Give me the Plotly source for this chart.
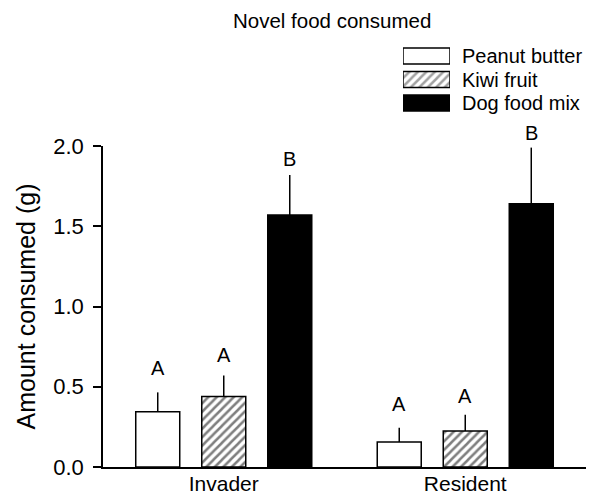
import plotly.graph_objects as go

groups = ["Invader", "Resident"]
series = ["Peanut butter", "Kiwi fruit", "Dog food mix"]
means = {
    "Peanut butter": [0.345, 0.155],
    "Kiwi fruit": [0.44, 0.225],
    "Dog food mix": [1.57, 1.64],
}
errors = {
    "Peanut butter": [0.12, 0.09],
    "Kiwi fruit": [0.13, 0.10],
    "Dog food mix": [0.25, 0.35],
}
letters = {
    "Peanut butter": ["A", "A"],
    "Kiwi fruit": ["A", "A"],
    "Dog food mix": ["B", "B"],
}
letter_y = {
    "Peanut butter": [0.57, 0.34],
    "Kiwi fruit": [0.65, 0.39],
    "Dog food mix": [1.87, 2.03],
}
y_ticks = [0.0, 0.5, 1.0, 1.5, 2.0]
y_range = [0, 2]

FONT = "Liberation Sans, Arial, sans-serif"
fill = {"Peanut butter": "white", "Kiwi fruit": "white", "Dog food mix": "black"}
pat = {"Peanut butter": "", "Kiwi fruit": "/", "Dog food mix": ""}

# page body has an 8px margin; figure covers the rest of the window
OFF = 8
WIN_W, WIN_H = 595, 496
W, H = WIN_W - OFF, WIN_H - OFF

# layout positions in window pixels
ax_left, ax_right, ax_top, ax_bottom = 103, 586, 146, 467
top_px = 30  # top of the overall plotting block

L = ax_left - OFF
R = W - (ax_right - OFF)
T = top_px - OFF
B = H - (ax_bottom - OFF)
plot_h = H - T - B
plot_w = W - L - R


def py(px):  # window pixel y -> paper fraction
    return (ax_bottom - px) / plot_h


def px_x(px):  # window pixel x -> paper fraction
    return (px - ax_left) / plot_w


main_dom_top = py(ax_top)

bargap = 0.18
bargroupgap = 1 / 3
slot = (1 - bargap) / len(series)

PATTERN = dict(fgcolor="black", bgcolor="white", size=6, solidity=0.42)

fig = go.Figure()
for s in series:
    fig.add_trace(go.Bar(
        x=groups, y=means[s], name=s, showlegend=False,
        marker=dict(color=fill[s], line=dict(color="black", width=1.5),
                    pattern=dict(shape=pat[s], **PATTERN)),
        error_y=dict(type="data", symmetric=False, array=errors[s],
                     arrayminus=[0] * len(groups), width=0, thickness=1.5,
                     color="black"),
        xaxis="x", yaxis="y",
    ))

# significance letters (paper y so they are not hidden above the axis range)
for i, s in enumerate(series):
    for j, g in enumerate(groups):
        yp = (letter_y[s][j] - y_range[0]) / (y_range[1] - y_range[0]) * main_dom_top
        fig.add_annotation(x=j + (i - 1) * slot, y=yp, xref="x", yref="paper",
                           text=letters[s][j], showarrow=False, yanchor="bottom",
                           yshift=-5,
                           font=dict(family=FONT, size=20, color="black"))

# legend drawn as a small bar panel
leg_top_px, leg_bot_px = 44.25, 114.75
leg_left_px, leg_right_px = 403, 450
fig.add_trace(go.Bar(
    y=series, x=[1] * len(series), base=0, orientation="h", width=0.68,
    showlegend=False, hoverinfo="skip",
    marker=dict(color=[fill[s] for s in series], line=dict(color="black", width=1.5),
                pattern=dict(shape=[pat[s] for s in series], **PATTERN)),
    xaxis="x2", yaxis="y2",
))

fig.update_layout(
    width=W, height=H,
    margin=dict(l=L, r=R, t=T, b=B, autoexpand=False),
    paper_bgcolor="white", plot_bgcolor="white",
    barmode="group", bargap=bargap, bargroupgap=bargroupgap,
    font=dict(family=FONT, color="black"),
    xaxis=dict(domain=[0, 1], showline=True, linecolor="black", linewidth=1.5,
               ticks="", showgrid=False, zeroline=False, automargin=False,
               ticklabelstandoff=-3,
               tickfont=dict(family=FONT, size=21, color="black"),
               range=[-0.5, 1.5], anchor="y"),
    yaxis=dict(domain=[0, main_dom_top], range=y_range, showline=True, linecolor="black",
               linewidth=1.5, ticks="outside", ticklen=8, tickwidth=1.5,
               tickcolor="black", tickvals=y_ticks,
               ticktext=[f"{v:.1f}" for v in y_ticks], automargin=False,
               showgrid=False, zeroline=False, ticklabelstandoff=5,
               tickfont=dict(family=FONT, size=22, color="black"),
               title=dict(text="Amount consumed (g)", standoff=11,
                          font=dict(family=FONT, size=25, color="black")),
               anchor="x"),
    xaxis2=dict(domain=[px_x(leg_left_px), px_x(leg_right_px)],
                range=[0, 1], visible=False, anchor="y2", fixedrange=True,
                automargin=False),
    yaxis2=dict(domain=[py(leg_bot_px), py(leg_top_px)],
                autorange="reversed", side="right", anchor="x2", automargin=False,
                showline=False, showgrid=False, zeroline=False,
                tickmode="array", tickvals=series, ticktext=series,
                ticks="outside", ticklen=7, tickcolor="rgba(0,0,0,0)",
                tickfont=dict(family=FONT, size=20, color="black")),
)

fig.add_annotation(text="Novel food consumed", xref="paper", yref="paper",
                   x=px_x(332), y=py(20), showarrow=False,
                   xanchor="center", yanchor="middle",
                   font=dict(family=FONT, size=20.5, color="black"))

fig.write_html("out.html")
